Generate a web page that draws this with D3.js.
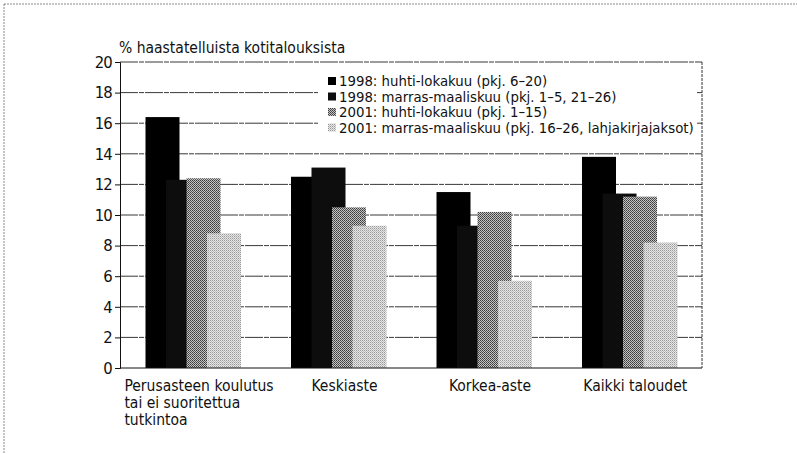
<!DOCTYPE html>
<html>
<head>
<meta charset="utf-8">
<script src="https://cdn.jsdelivr.net/npm/d3@7"></script>
<style>
  body { margin: 0; background: #fff; }
  text { font-family: "Liberation Sans Narrow", "DejaVu Sans Condensed", "Liberation Sans", sans-serif; fill: #111; }
</style>
</head>
<body>
<svg id="chart" width="797" height="454"></svg>
<script>
// data
let categories = [
    ["Perusasteen koulutus", "tai ei suoritettua", "tutkintoa"],
    ["Keskiaste"],
    ["Korkea-aste"],
    ["Kaikki taloudet"]
];
let seriesNames = [
    "1998: huhti-lokakuu (pkj. 6\u201320)",
    "1998: marras-maaliskuu (pkj. 1\u20135, 21\u201326)",
    "2001: huhti-lokakuu (pkj. 1\u201315)",
    "2001: marras-maaliskuu (pkj. 16\u201326, lahjakirjajaksot)"
];
let s1998a = [16.4, 12.5, 11.5, 13.8];
let s1998b = [12.3, 13.1, 9.3, 11.4];
let s2001a = [12.4, 10.5, 10.2, 11.2];
let s2001b = [8.8, 9.3, 5.7, 8.2];
let yTicks = [0, 2, 4, 6, 8, 10, 12, 14, 16, 18, 20];
let yTitle = "% haastatelluista kotitalouksista";

let allSeries = [s1998a, s1998b, s2001a, s2001b];

let svg = d3.select("#chart");

let plotLeft = 120, plotRight = 702, plotTop = 62, plotBottom = 368;

// dither-like fills
let defs = svg.append("defs");
function dither(id, bg, dots) {
    let p = defs.append("pattern").attr("id", id)
        .attr("width", 2).attr("height", 2).attr("patternUnits", "userSpaceOnUse");
    p.append("rect").attr("width", 2).attr("height", 2).attr("fill", bg);
    dots.forEach(d => p.append("rect").attr("x", d[0]).attr("y", d[1])
        .attr("width", 1).attr("height", 1).attr("fill", d[2]));
}
dither("p3", "#c4c4c4", [[0, 0, "#3a3a3a"], [1, 1, "#555"]]);
dither("p4", "#e6e6e6", [[0, 0, "#999"], [1, 1, "#bcbcbc"]]);
let fills = ["#000", "#0d0d0d", "url(#p3)", "url(#p4)"];

// outer frame
svg.append("rect").attr("x", 4).attr("y", 4).attr("width", 820).attr("height", 480)
    .attr("fill", "none").attr("stroke", "#888").attr("stroke-width", 1)
    .attr("stroke-dasharray", "2,1");

let x0 = d3.scaleBand().domain(d3.range(categories.length)).range([plotLeft, plotRight]).padding(0);
let xs = d3.scaleLinear().domain([0, 3]).range([25.5, 87]);
let y = d3.scaleLinear().domain([0, 20]).range([plotBottom, plotTop]);

// gridlines
svg.append("g").selectAll("line").data(yTicks.filter(t => t > 0)).join("line")
    .attr("x1", plotLeft).attr("x2", plotRight)
    .attr("y1", d => y(d)).attr("y2", d => y(d))
    .attr("stroke", "#222").attr("stroke-width", 0.9)
    .attr("stroke-dasharray", "18,1,5,1");

// right border
svg.append("line").attr("x1", plotRight).attr("x2", plotRight).attr("y1", plotTop).attr("y2", plotBottom)
    .attr("stroke", "#333").attr("stroke-dasharray", "3,1");

// bars (drawn series by series, later overlapping earlier)
allSeries.forEach((vals, si) => {
    svg.append("g").selectAll("rect").data(vals).join("rect")
        .attr("x", (d, i) => x0(i) + xs(si))
        .attr("y", d => y(d))
        .attr("width", 34)
        .attr("height", d => y(0) - y(d))
        .attr("fill", fills[si]);
});

// legend
let lg = svg.append("g");
lg.append("rect").attr("x", 318).attr("y", 72).attr("width", 379).attr("height", 63).attr("fill", "#fff");
seriesNames.forEach((name, i) => {
    let ly = 81 + i * 15.5;
    lg.append("rect").attr("x", 328).attr("y", ly - 4).attr("width", 8).attr("height", 8).attr("fill", fills[i]);
    lg.append("text").attr("x", 339).attr("y", ly + 5).attr("font-size", 14.8).text(name);
});

// axes
let yAxis = d3.axisLeft(y).tickValues(yTicks).tickSize(5).tickPadding(3);
let gY = svg.append("g").attr("transform", "translate(" + plotLeft + ",0)").call(yAxis);
gY.select(".domain").attr("stroke", "#111");
gY.selectAll("text").attr("font-size", 16.5).attr("font-family", null).attr("letter-spacing", -0.8);
gY.selectAll("line").attr("stroke", "#111");

svg.append("line").attr("x1", plotLeft).attr("x2", plotRight).attr("y1", plotBottom).attr("y2", plotBottom)
    .attr("stroke", "#111");

svg.append("text").attr("x", 119).attr("y", 53).attr("font-size", 15.5).text(yTitle);

// category labels, each block centred a little right of its bar group
let xl = svg.append("g").selectAll("text").data(categories).join("text")
    .attr("y", 391)
    .attr("font-size", 15.5);
xl.selectAll("tspan").data(d => d).join("tspan")
    .attr("x", 0)
    .attr("dy", (d, i) => i === 0 ? 0 : 17)
    .text(d => d);
xl.each(function(d, i) {
    let w = this.getBBox().width;
    let lx = x0(i) + 79 - w / 2;
    d3.select(this).selectAll("tspan").attr("x", lx);
});
</script>
</body>
</html>
